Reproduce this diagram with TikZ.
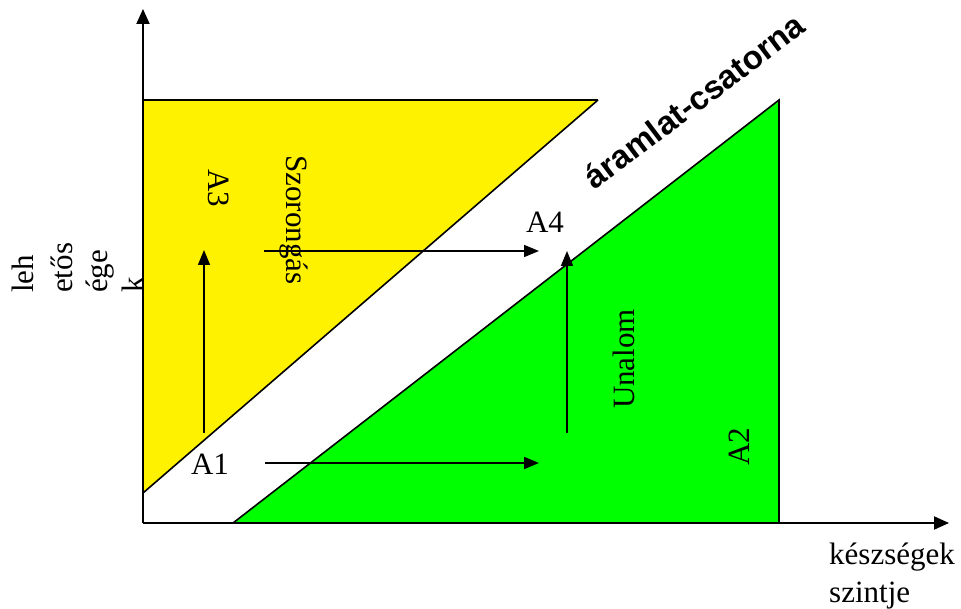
\documentclass[tikz,border=0pt]{standalone}
\usepackage{fontspec}
\setmainfont{Liberation Serif}
\newfontfamily\titlefont{Liberation Sans}
\usetikzlibrary{arrows.meta}
\tikzset{
  lbl/.style={inner sep=0pt, font=\fontsize{31}{36}\selectfont},
  axisline/.style={line width=2pt, -{Triangle[length=15pt,width=13pt]}},
  movearrow/.style={line width=1.6pt, -{Triangle[length=15pt,width=12pt]}},
  zone/.style={draw=black, line width=1.6pt, line join=miter}
}
\begin{document}
\begin{tikzpicture}[x=1pt,y=-1pt]
\useasboundingbox (0,0) rectangle (961,609);
% zones
\fill[yellow] (143,100) -- (598,100) -- (143,493) -- cycle;
\draw[zone] (598,100) -- (143,493);
\draw[zone] (143,100) -- (598,100);
\fill[green] (233,523) -- (779,100) -- (779,523) -- cycle;
\draw[zone] (233,523) -- (779,100) -- (779,523);
% axes
\coordinate (O) at (143,523);
\coordinate (ytip) at (143,9);
\coordinate (xtip) at (949,523);
\draw[axisline] (O) -- (ytip);
\draw[axisline] (O) -- (xtip);
% arrows
\coordinate (a1s) at (204,433);
\coordinate (a1e) at (204,250);
\coordinate (a2s) at (264,251);
\coordinate (a2e) at (539,251);
\coordinate (a3s) at (567,433);
\coordinate (a3e) at (567,251);
\coordinate (a4s) at (265,463);
\coordinate (a4e) at (539,463);
\draw[movearrow] (a1s) -- (a1e);
\draw[movearrow] (a2s) -- (a2e);
\draw[movearrow] (a3s) -- (a3e);
\draw[movearrow] (a4s) -- (a4e);
% labels
\node[lbl] (A1) at (210,464) {A1};
\node[lbl] (A4) at (545,222) {A4};
\node[lbl, rotate=-90] (A3) at (219,188) {A3};
\node[lbl, rotate=-90] (szor) at (294,220) {Szorongás};
\node[lbl, rotate=90] (unalom) at (624,359) {Unalom};
\node[lbl, rotate=90] (A2) at (739,447) {A2};
\node[inner sep=0pt, rotate=37, font=\titlefont\bfseries\fontsize{33}{36}\selectfont] (title) at (694,101) {áramlat-csatorna};
% y label
\node[lbl, rotate=90, anchor=base west] (y1) at (33,293) {leh};
\node[lbl, rotate=90, anchor=base west] (y2) at (72,293) {etős};
\node[lbl, rotate=90, anchor=base west] (y3) at (107,293) {ége};
\node[lbl, rotate=90, anchor=base west] (y4) at (143,293) {k};
% x label
\node[lbl, anchor=base west] (x1) at (829,564) {készségek};
\node[lbl, anchor=base west] (x2) at (829,602) {szintje};
\end{tikzpicture}
\end{document}
